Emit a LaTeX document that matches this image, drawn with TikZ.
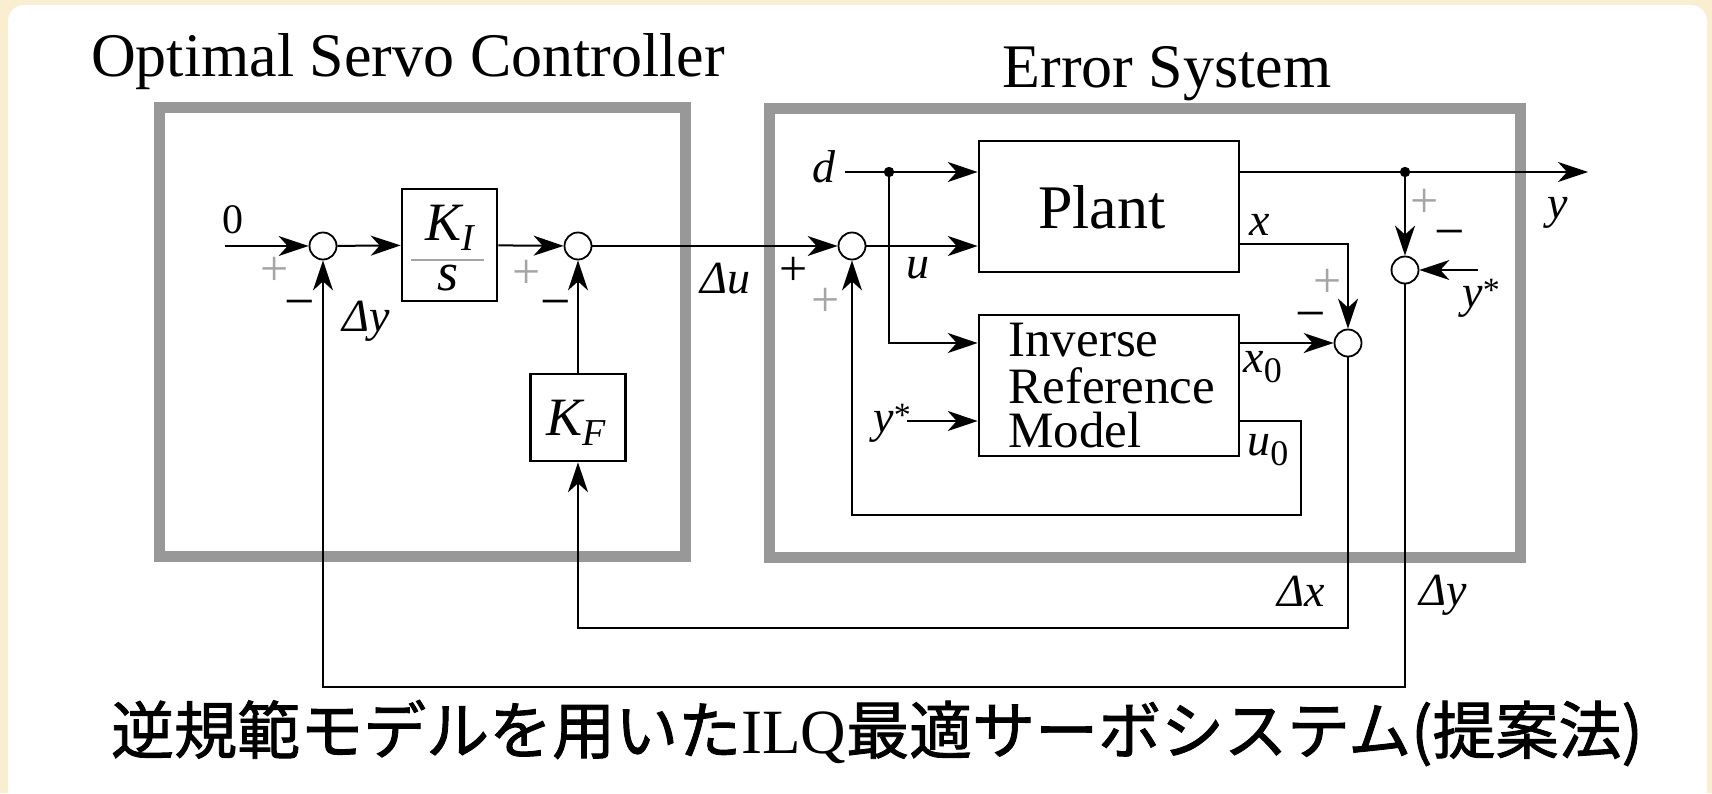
\documentclass[tikz,border=0pt]{standalone}
\usepackage{fontspec}
\setmainfont{Liberation Serif}
\newfontfamily\jpfont{Noto Sans CJK JP}[FakeBold=1.4]
\usetikzlibrary{arrows.meta}
\definecolor{cream}{RGB}{250,238,208}
\definecolor{framegray}{RGB}{152,152,152}
\definecolor{plusgray}{RGB}{165,165,165}
\newcommand{\fs}[1]{\fontsize{#1}{#1}\selectfont}
\begin{document}
\begin{tikzpicture}[x=0.5pt,y=-0.5pt,
  conn/.style={line width=1pt},
  arr/.style={conn,-{Stealth[length=15pt,width=10pt,inset=4.5pt]}},
  sumnode/.style={circle,draw,line width=0.9pt,minimum size=13.5pt,inner sep=0pt},
  blk/.style={draw,line width=1.3pt,inner sep=0pt},
  frame/.style={draw=framegray,line width=5.5pt},
  lbl/.style={inner sep=0pt,anchor=base,font=\fs{23pt}\itshape},
  title/.style={inner sep=0pt,anchor=base,font=\fs{31pt}},
  irm/.style={inner sep=0pt,anchor=base west,font=\fs{25.5pt},text height=0.68em,text depth=0pt},
  pls/.style={inner sep=0pt,font=\fs{25pt},text=plusgray},
  plsb/.style={inner sep=0pt,font=\fs{25pt}},
  mns/.style={inner sep=0pt,font=\fs{27pt}},
  dot/.style={fill=black}
]
\useasboundingbox (0,0) rectangle (1712,793);
\fill[cream] (0,0) rectangle (1712,793);
\fill[white,rounded corners=8pt] (8,5) rectangle (1707,830);

% frames
\draw[frame] (159,107) rectangle (685,556);
\draw[frame] (769,108) rectangle (1520,557);
\node[title] (t1) at (408,76) {Optimal Servo Controller};
\node[title] (t2) at (1167,87) {Error System};

% summing junctions
\node[sumnode] (s1) at (323,246) {};
\node[sumnode] (s2) at (578,246) {};
\node[sumnode] (s5) at (852,246) {};
\node[sumnode] (s3) at (1405,270) {};
\node[sumnode] (s4) at (1348,343) {};

% blocks
\node[blk,minimum width=47.5pt,minimum height=56pt] (KI) at (449.5,245) {};
\node[blk,minimum width=47.5pt,minimum height=43.5pt] (KF) at (578,417.5) {};
\node[blk,minimum width=130pt,minimum height=65.5pt] (P) at (1109,206.5) {};
\node[blk,minimum width=130pt,minimum height=70.5pt] (IRM) at (1109,385.5) {};

% block texts
\node[inner sep=0pt,anchor=base,font=\fs{27pt}\itshape] (kit) at (450,240) {K\raisebox{-0.2em}{\fs{19pt}I}};
\draw[plusgray,line width=1.1pt] (411,260) -- (484,260);
\node[inner sep=0pt,anchor=base,font=\fs{27pt}\itshape] (kis) at (448,290) {s};
\node[inner sep=0pt,anchor=base,font=\fs{27pt}\itshape] (kft) at (576,435) {K\raisebox{-0.2em}{\fs{19pt}F}};
\node[title] (pt) at (1102,228) {Plant};
\node[irm] (i1) at (1008,356) {Inverse};
\node[irm] (i2) at (1008,403) {Reference};
\node[irm] (i3) at (1008,447) {Model};

% coordinates
\coordinate (in0) at (225,246);
\coordinate (din) at (845,172);
\coordinate (jd) at (889,172);
\coordinate (jy) at (1405,172);
\coordinate (yout) at (1588,172);
\coordinate (ysin) at (1478,270);
\coordinate (ysin2) at (907,421);
\coordinate (xo) at (1239,244);
\coordinate (u0c) at (1301,515);
\coordinate (bx) at (578,628);
\coordinate (by) at (323,687);

% connectors
\draw[arr] (in0) -- (s1);
\draw[arr] (s1) -- (KI);
\draw[arr] (KI) -- (s2);
\draw[arr] (s2) -- (s5);
\draw[arr] (s5) -- (s5 -| P.west);
\draw[arr] (din) -- (din -| P.west);
\draw[arr] (P.east |- yout) -- (yout);
\draw[arr] (jy) -- (s3);
\draw[arr] (ysin) -- (s3);
\draw[arr] (jd) |- (IRM.west |- s4);
\draw[arr] (IRM.east |- s4) -- (s4);
\draw[arr] (xo) -| (s4);
\draw[arr] (ysin2) -- (IRM.west |- ysin2);
\draw[arr] (IRM.east |- ysin2) -| (u0c) -| (s5);
\draw[arr] (s4) |- (bx) -- (KF);
\draw[arr] (KF) -- (s2);
\draw[arr] (s3) |- (by) -- (s1);
\fill[dot] (jd) circle[radius=2.6pt];
\fill[dot] (jy) circle[radius=2.6pt];

% labels
\node[inner sep=0pt,anchor=base,font=\fs{21pt}] (l0) at (233,233) {0};
\node[lbl] (ldy1) at (366,331) {Δy};
\node[lbl] (ldu) at (725,293) {Δu};
\node[lbl] (ld) at (824,182) {d};
\node[lbl] (lu) at (918,278) {u};
\node[lbl] (lx) at (1260,235) {x};
\node[lbl,anchor=base west] (lx0) at (1243,372) {x\raisebox{-0.22em}{\fs{18pt}\upshape 0}};
\node[lbl,anchor=base west] (lu0) at (1247,455) {u\raisebox{-0.22em}{\fs{18pt}\upshape 0}};
\node[lbl] (ly) at (1558,218) {y};
\node[lbl,anchor=base west] (lys) at (1462,307) {y\raisebox{0.12em}{\fs{17pt}\upshape *}};
\node[lbl,anchor=base west] (lys2) at (873,432) {y\raisebox{0.12em}{\fs{17pt}\upshape *}};
\node[lbl] (ldx) at (1301,606) {Δx};
\node[lbl] (ldy2) at (1443,605) {Δy};

% signs
\node[pls] (p1) at (275,271) {+};
\node[pls] (p2) at (527,274) {+};
\node[pls] (p3) at (1425,203) {+};
\node[pls] (p4) at (1328,283) {+};
\node[pls] (p5) at (826,302) {+};
\node[plsb] (p6) at (794,271) {+};
\node[mns] (m1) at (300,310) {−};
\node[mns] (m2) at (556,310) {−};
\node[mns] (m3) at (1450,240) {−};
\node[mns] (m4) at (1311,322) {−};

% caption
\node[inner sep=0pt,font=\fs{31.5pt}\jpfont] (cap) at (877,733) {逆規範モデルを用いた{\rmfamily ILQ}最適サーボシステム(提案法)};
\end{tikzpicture}
\end{document}
